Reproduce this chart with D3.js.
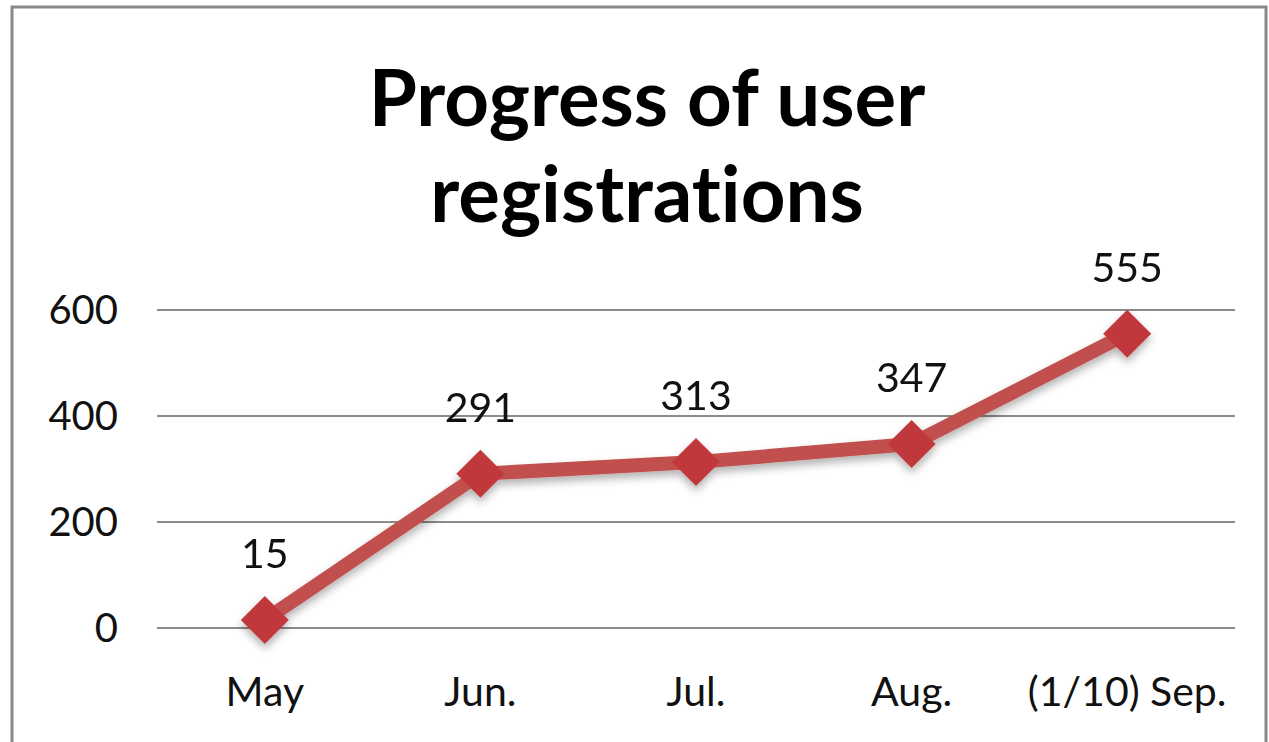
<!DOCTYPE html>
<html>
<head>
<meta charset="utf-8">
<script src="https://cdn.jsdelivr.net/npm/d3@7"></script>
<style>
  body { margin: 0; background: #fff; }
  svg text { font-family: Lato, "Open Sans", sans-serif; font-variant-ligatures: none; }
</style>
</head>
<body>
<svg width="1269" height="742"></svg>
<script>
var months = ["May", "Jun.", "Jul.", "Aug.", "(1/10) Sep."];
var users = [15, 291, 313, 347, 555];
var yTicks = [0, 200, 400, 600];
var titleLines = ["Progress of user", "registrations"];

var svg = d3.select("svg"),
    margin = {top: 310, right: 34, bottom: 114, left: 157},
    width = 1235 - margin.left,
    height = 628 - margin.top;

// chart frame
svg.append("rect")
    .attr("x", 12).attr("y", 7)
    .attr("width", 1254).attr("height", 750)
    .attr("fill", "#fff")
    .attr("stroke", "#898989")
    .attr("stroke-width", 3);

var x = d3.scaleBand().domain(months).range([0, width]);
var y = d3.scaleLinear().domain([0, 600]).range([height, 0]);

var g = svg.append("g").attr("transform", "translate(" + margin.left + "," + margin.top + ")");

// title
svg.append("text")
    .attr("x", 647).attr("y", 126)
    .attr("text-anchor", "middle")
    .attr("font-size", 78)
    .attr("font-weight", "bold")
    .selectAll("tspan")
    .data(titleLines)
    .enter().append("tspan")
    .attr("x", 647)
    .attr("dy", function(d, i) { return i ? 96 : 0; })
    .text(function(d) { return d; });

// gridlines + y labels
g.selectAll(".grid")
    .data(yTicks)
    .enter().append("line")
    .attr("x1", 0).attr("x2", width)
    .attr("y1", function(d) { return y(d); })
    .attr("y2", function(d) { return y(d); })
    .attr("stroke", "#8c8c8c")
    .attr("stroke-width", 2);

g.selectAll(".ylab")
    .data(yTicks)
    .enter().append("text")
    .attr("x", -39)
    .attr("y", function(d) { return y(d); })
    .attr("dy", "0.35em")
    .attr("text-anchor", "end")
    .attr("font-size", 40)
    .attr("fill", "#111")
    .text(function(d) { return d; });

// x labels
g.selectAll(".xlab")
    .data(months)
    .enter().append("text")
    .attr("x", function(d) { return x(d) + x.bandwidth() / 2; })
    .attr("y", height + 78)
    .attr("text-anchor", "middle")
    .attr("font-size", 41)
    .attr("fill", "#111")
    .text(function(d) { return d; });

var defs = svg.append("defs");
var f = defs.append("filter").attr("id", "shadow")
    .attr("x", "-20%").attr("y", "-20%").attr("width", "140%").attr("height", "160%");
f.append("feDropShadow")
    .attr("dx", 0).attr("dy", 5).attr("stdDeviation", 4)
    .attr("flood-color", "#000").attr("flood-opacity", 0.3);

var pts = months.map(function(m, i) { return [x(m) + x.bandwidth() / 2, y(users[i])]; });

var sg = g.append("g").attr("filter", "url(#shadow)");

sg.append("path")
    .datum(pts)
    .attr("d", d3.line())
    .attr("fill", "none")
    .attr("stroke", "#c0504d")
    .attr("stroke-width", 14)
    .attr("stroke-linejoin", "round");

sg.selectAll(".marker")
    .data(pts)
    .enter().append("path")
    .attr("transform", function(d) { return "translate(" + d[0] + "," + d[1] + ")"; })
    .attr("d", "M0,-24L24,0L0,24L-24,0Z")
    .attr("fill", "#c0393a");

// data labels
g.selectAll(".val")
    .data(users)
    .enter().append("text")
    .attr("x", function(d, i) { return pts[i][0]; })
    .attr("y", function(d, i) { return pts[i][1] - 52; })
    .attr("text-anchor", "middle")
    .attr("font-size", 41)
    .attr("fill", "#111")
    .text(function(d) { return d; });
</script>
</body>
</html>
